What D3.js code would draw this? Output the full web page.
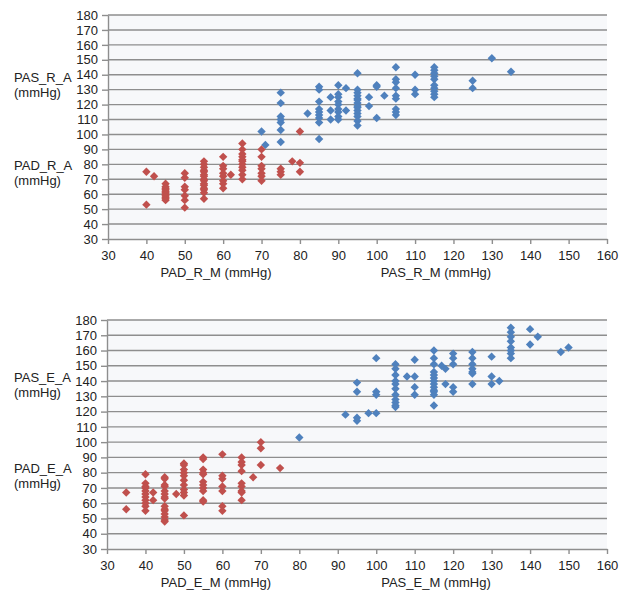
<!DOCTYPE html>
<html>
<head>
<meta charset="utf-8">
<script src="https://cdn.jsdelivr.net/npm/d3@7"></script>
<style>
  body { margin: 0; background: #fff; }
  svg text { font-family: "Liberation Sans", Arial, sans-serif; fill: #222; }
</style>
</head>
<body>
<script>
// axis ticks
var xTicks = d3.range(30, 161, 10);
var yTicks = d3.range(30, 181, 10);

// top panel (R): x columns and the y values measured at each x
var padR_M = [40, 42, 45, 50, 55, 60, 62, 65, 70, 75, 78, 80];
var padR_A = [
  [75, 53], [72],
  [67, 65, 64, 63, 62, 61, 60, 59, 58, 57, 56],
  [74, 71, 65, 63, 59, 56, 51],
  [82, 80, 78, 76, 75, 73, 72, 70, 69, 67, 66, 64, 63, 61, 57],
  [85, 79, 77, 74, 72, 69, 67, 64],
  [73],
  [94, 90, 87, 85, 83, 82, 80, 78, 76, 73, 70],
  [90, 85, 79, 77, 74, 72, 69],
  [77, 75, 73], [82], [102, 81, 75]
];
var pasR_M = [70, 71, 75, 82, 85, 88, 90, 92, 95, 98, 100, 102, 105, 110, 115, 125, 130, 135];
var pasR_A = [
  [102], [93],
  [128, 121, 112, 110, 108, 103, 95],
  [114],
  [132, 130, 122, 117, 115, 113, 111, 108, 97],
  [125, 116, 110],
  [133, 127, 125, 122, 120, 117, 115, 112, 110],
  [131, 116],
  [141, 130, 128, 126, 124, 123, 121, 119, 118, 116, 114, 112, 109, 106],
  [125, 119],
  [133, 132, 111],
  [126],
  [145, 137, 135, 131, 126, 124, 117, 115, 113],
  [140, 130, 127],
  [145, 143, 141, 139, 137, 133, 131, 129, 127, 125],
  [136, 131], [151], [142]
];

// bottom panel (E)
var padE_M = [35, 40, 42, 45, 48, 50, 55, 60, 65, 68, 70, 75];
var padE_A = [
  [67, 56],
  [79, 73, 71, 70, 68, 66, 64, 62, 60, 58, 55],
  [67, 62],
  [77, 76, 72, 71, 68, 66, 64, 63, 58, 56, 55, 53, 51, 49, 48],
  [66],
  [86, 85, 82, 80, 78, 75, 72, 69, 67, 65, 52],
  [90, 89, 82, 80, 79, 74, 72, 70, 68, 62, 61],
  [92, 78, 76, 71, 68, 58, 55],
  [90, 87, 85, 81, 73, 71, 68, 67, 62],
  [77], [100, 96, 85], [83]
];
var pasE_M = [80, 92, 95, 98, 100, 105, 108, 110, 115, 117, 118, 120, 125, 130, 132, 135, 140, 142, 148, 150];
var pasE_A = [
  [103], [118],
  [139, 133, 116, 114],
  [119],
  [155, 133, 131, 119],
  [151, 148, 144, 140, 138, 135, 131, 128, 126, 124, 123],
  [143],
  [154, 143, 136, 131],
  [160, 155, 151, 146, 144, 142, 140, 138, 136, 134, 133, 131, 124],
  [150], [148, 138],
  [158, 155, 151, 136, 133],
  [159, 155, 151, 148, 146, 145, 138],
  [156, 143, 138], [140],
  [175, 172, 169, 166, 162, 160, 158, 155],
  [174, 164], [169], [159], [162]
];

var RED = "#c0504d", BLUE = "#4f81bd";

var svg = d3.select("body").append("svg")
  .attr("width", 622)
  .attr("height", 599);

function flatten(xs, ys) {
  var out = [];
  xs.forEach(function(x, i) {
    ys[i].forEach(function(y) { out.push({x: x, y: y}); });
  });
  return out;
}

function panel(opt) {
  var xScale = d3.scaleLinear().domain([30, 160]).range([opt.left, opt.right]);
  var yScale = d3.scaleLinear().domain([30, 180]).range([opt.bottom, opt.top]);
  var g = svg.append("g");

  g.append("rect")
    .attr("x", opt.left).attr("y", opt.top)
    .attr("width", opt.right - opt.left)
    .attr("height", opt.bottom - opt.top)
    .attr("fill", "#f7f8fa");

  // gridlines
  g.selectAll(".grid")
    .data(yTicks.slice(1))
    .enter().append("line")
    .attr("x1", opt.left).attr("x2", opt.right)
    .attr("y1", function(d) { return yScale(d); })
    .attr("y2", function(d) { return yScale(d); })
    .attr("stroke", "#8e8e8e")
    .attr("stroke-width", 1.4);

  var xAxis = d3.axisBottom(xScale).tickValues(xTicks).tickSize(5).tickSizeOuter(0);
  var yAxis = d3.axisLeft(yScale).tickValues(yTicks).tickSize(6).tickSizeOuter(0);

  var gx = g.append("g")
    .attr("transform", "translate(0," + opt.bottom + ")")
    .call(xAxis);
  var gy = g.append("g")
    .attr("transform", "translate(" + opt.left + ",0)")
    .call(yAxis);
  [gx, gy].forEach(function(a) {
    a.selectAll("path, line").attr("stroke", "#8e8e8e").attr("stroke-width", 1.4);
    a.selectAll("text").style("font-size", "13px").attr("fill", "#222");
  });
  gx.selectAll("text").attr("dy", "0.98em");
  gy.selectAll("text").attr("x", -10);

  var diamond = "M0,-4.2L4.2,0L0,4.2L-4.2,0Z";
  function dots(data, color) {
    g.selectAll(null)
      .data(data)
      .enter().append("path")
      .attr("d", diamond)
      .attr("transform", function(d) {
        return "translate(" + xScale(d.x) + "," + yScale(d.y) + ")";
      })
      .attr("fill", color);
  }
  dots(flatten(opt.bx, opt.by), BLUE);
  dots(flatten(opt.rx, opt.ry), RED);

  // axis titles
  function label(x, y, lines, anchor) {
    var t = g.append("text")
      .attr("x", x).attr("y", y)
      .style("font-size", "13px")
      .attr("text-anchor", anchor || "start");
    lines.forEach(function(l, i) {
      t.append("tspan").attr("x", x).attr("dy", i ? 15 : 0).text(l);
    });
  }
  label(14, opt.upperLabelY, [opt.names[0], "(mmHg)"]);
  label(14, opt.lowerLabelY, [opt.names[1], "(mmHg)"]);
  label(216, opt.bottom + 38, [opt.names[2]], "middle");
  label(436, opt.bottom + 38, [opt.names[3]], "middle");
}

panel({
  left: 108, right: 607, top: 15, bottom: 239,
  rx: padR_M, ry: padR_A, bx: pasR_M, by: pasR_A,
  names: ["PAS_R_A", "PAD_R_A", "PAD_R_M (mmHg)", "PAS_R_M (mmHg)"],
  upperLabelY: 82, lowerLabelY: 170
});

panel({
  left: 107, right: 607, top: 320, bottom: 549,
  rx: padE_M, ry: padE_A, bx: pasE_M, by: pasE_A,
  names: ["PAS_E_A", "PAD_E_A", "PAD_E_M (mmHg)", "PAS_E_M (mmHg)"],
  upperLabelY: 382, lowerLabelY: 473
});
</script>
</body>
</html>
